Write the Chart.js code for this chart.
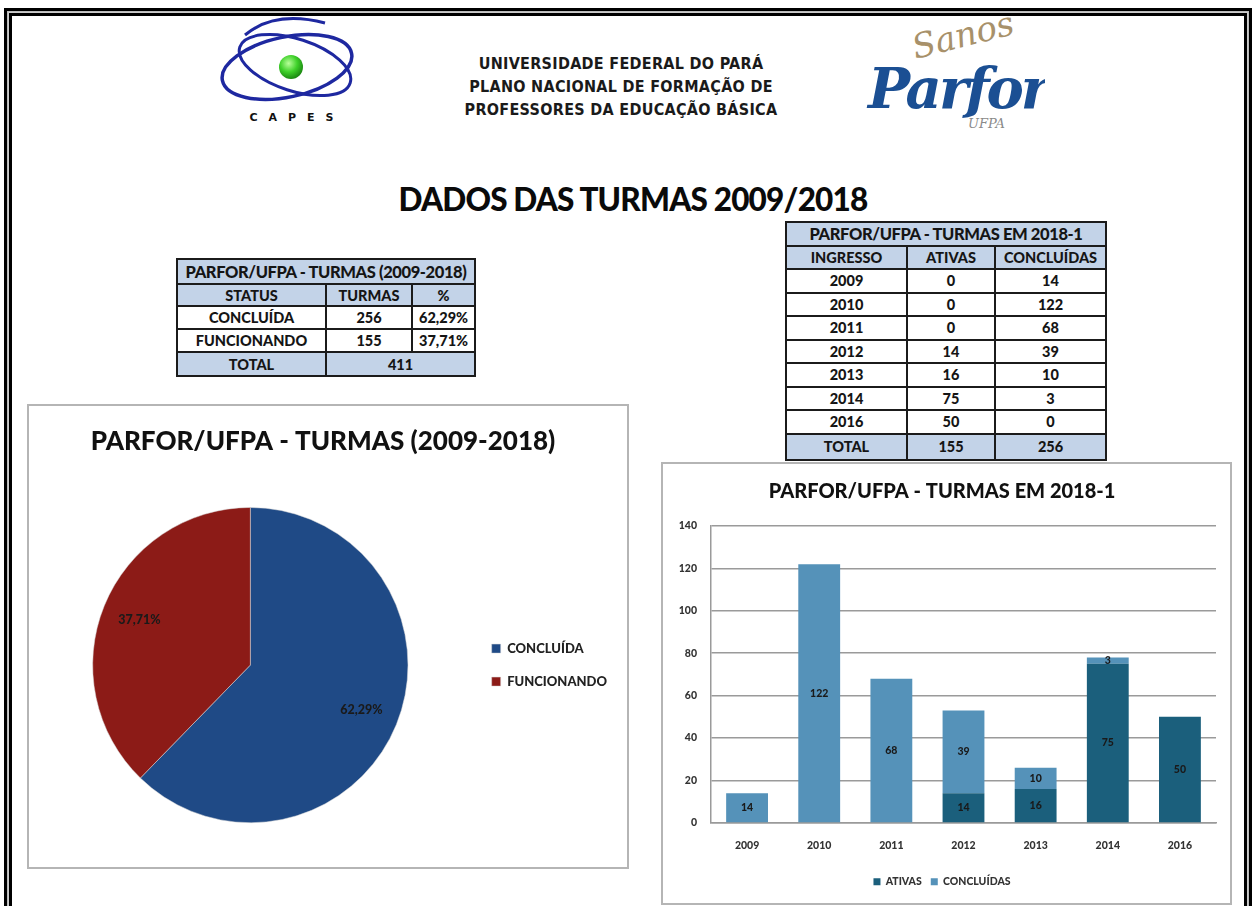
<!DOCTYPE html>
<html lang="pt">
<head>
  <meta charset="UTF-8">
  <title>Dados das Turmas 2009/2018</title>
  <script src="https://cdn.jsdelivr.net/npm/chart.js"></script>
  <style>
    body { margin: 0; width: 1254px; height: 906px; overflow: hidden; background: #fff; position: relative; font-family: Lato, "Open Sans", sans-serif; }
    .frame1 { position: absolute; left: 4px; top: 8px; width: 1242px; height: 1000px; border: 3px solid #000; box-shadow: inset 0 0 0 1px #bbb; }
    .frame2 { position: absolute; left: 9px; top: 13px; width: 1232px; height: 1000px; border: 3px solid #000; box-shadow: 0 0 0 1px #ccc; }
    .head { position: absolute; left: 410px; top: 52px; width: 422px; text-align: center; font-family: "DejaVu Sans Condensed", "DejaVu Sans", sans-serif; font-weight: bold; font-size: 16px; letter-spacing: 0.3px; line-height: 23px; color: #1a1a1a; }
    .maintitle { position: absolute; left: 300px; top: 180px; width: 666px; text-align: center; font-weight: 900; font-size: 31.5px; color: #0a0a0a; letter-spacing: -0.8px; }
    table { position: absolute; border-collapse: collapse; font-weight: 900; color: #151515; text-align: center; }
    td { border: 2px solid #1b1b1b; padding: 0; }
    .blue td { background: #c3d3e8; }
    .ttl td { font-size: 16.5px; letter-spacing: -0.4px; }
    #tabStatus { left: 176px; top: 258px; width: 300px; font-size: 14.5px; }
    #tabIngresso { left: 785px; top: 221px; width: 322px; font-size: 14.5px; }
    .box { position: absolute; border: 2px solid #b5b5b5; background: #fff; }
    #pieBox { left: 27px; top: 404px; width: 598px; height: 461px; }
    #barBox { left: 661px; top: 462px; width: 567px; height: 439px; }
  </style>
</head>
<body>
  <div class="frame1"></div>
  <div class="frame2"></div>

  <!-- logo CAPES -->
  <svg style="position:absolute;left:215px;top:15px" width="160" height="115">
    <defs>
      <radialGradient id="g" cx="40%" cy="35%" r="65%">
        <stop offset="0%" stop-color="#b8ff9a"/>
        <stop offset="55%" stop-color="#3fd12a"/>
        <stop offset="100%" stop-color="#1c8a12"/>
      </radialGradient>
    </defs>
    <ellipse cx="72" cy="52" rx="66" ry="30" transform="rotate(-12 72 52)" fill="none" stroke="#1e28a0" stroke-width="3.5"/>
    <ellipse cx="80" cy="50" rx="58" ry="26" transform="rotate(18 80 50)" fill="none" stroke="#1e28a0" stroke-width="3"/>
    <path d="M30 20 Q60 -5 110 8" fill="none" stroke="#1e28a0" stroke-width="3"/>
    <circle cx="76" cy="52" r="12" fill="url(#g)"/>
    <text x="82" y="106" text-anchor="middle" font-family="DejaVu Sans" font-weight="bold" font-size="11" letter-spacing="11" fill="#111">CAPES</text>
  </svg>

  <div class="head">UNIVERSIDADE FEDERAL DO PARÁ<br>PLANO NACIONAL DE FORMAÇÃO DE<br>PROFESSORES DA EDUCAÇÃO BÁSICA</div>

  <!-- logo Parfor -->
  <svg style="position:absolute;left:860px;top:10px" width="185" height="125">
    <text x="52" y="40" font-family="DejaVu Serif" font-style="italic" font-size="34" fill="#a8916a" transform="rotate(-14 90 30)">Sanos</text>
    <text x="8" y="98" font-family="DejaVu Serif" font-style="italic" font-weight="bold" font-size="56" fill="#1b4f93" letter-spacing="-3">Parfor</text>
    <text x="108" y="118" font-family="DejaVu Serif" font-style="italic" font-size="13" fill="#8a8a8a">UFPA</text>
  </svg>

  <div class="maintitle">DADOS DAS TURMAS 2009/2018</div>

  <table id="tabStatus"></table>
  <table id="tabIngresso"></table>

  <div class="box" id="pieBox"><canvas id="pieChart"></canvas></div>
  <div class="box" id="barBox"><canvas id="barChart"></canvas></div>

  <script>
    // tabela / pizza 2009-2018
    const statusLabels = ['CONCLUÍDA', 'FUNCIONANDO'];
    const statusTurmas = [256, 155];
    const statusPct = ['62,29%', '37,71%'];
    const statusTotal = 411;

    // tabela / barras 2018-1
    const anos = ['2009', '2010', '2011', '2012', '2013', '2014', '2016'];
    const ativas = [0, 0, 0, 14, 16, 75, 50];
    const concluidas = [14, 122, 68, 39, 10, 3, 0];
    const totalAtivas = 155;
    const totalConcluidas = 256;

    const font = 'Lato, "Open Sans", sans-serif';

    // monta as tabelas
    let html = '<tr class="blue ttl" style="height:25px"><td colspan="3">PARFOR/UFPA - TURMAS (2009-2018)</td></tr>';
    html += '<tr class="blue" style="height:22px"><td style="width:147px">STATUS</td><td style="width:84px">TURMAS</td><td>%</td></tr>';
    statusLabels.forEach((s, i) => {
      html += `<tr style="height:23px"><td>${s}</td><td>${statusTurmas[i]}</td><td>${statusPct[i]}</td></tr>`;
    });
    html += `<tr class="blue" style="height:24px"><td>TOTAL</td><td colspan="2">${statusTotal}</td></tr>`;
    document.getElementById('tabStatus').innerHTML = html;

    html = '<tr class="blue ttl" style="height:24px"><td colspan="3">PARFOR/UFPA - TURMAS EM 2018-1</td></tr>';
    html += '<tr class="blue" style="height:23px"><td style="width:119px">INGRESSO</td><td style="width:86px">ATIVAS</td><td>CONCLUÍDAS</td></tr>';
    anos.forEach((a, i) => {
      html += `<tr style="height:23.5px"><td>${a}</td><td>${ativas[i]}</td><td>${concluidas[i]}</td></tr>`;
    });
    html += `<tr class="blue" style="height:26px"><td>TOTAL</td><td>${totalAtivas}</td><td>${totalConcluidas}</td></tr>`;
    document.getElementById('tabIngresso').innerHTML = html;

    // rotulos dentro das fatias
    const pieLabels = {
      id: 'pieLabels',
      afterDatasetsDraw(chart) {
        const ctx = chart.ctx;
        ctx.save();
        ctx.font = '900 12.5px ' + font;
        ctx.fillStyle = '#1a1a1a';
        ctx.textAlign = 'center';
        ctx.textBaseline = 'middle';
        chart.getDatasetMeta(0).data.forEach((arc, i) => {
          const mid = (arc.startAngle + arc.endAngle) / 2;
          const r = arc.outerRadius * 0.76;
          ctx.fillText(statusPct[i], arc.x + Math.cos(mid) * r, arc.y + Math.sin(mid) * r);
        });
        ctx.restore();
      }
    };

    new Chart(document.getElementById('pieChart'), {
      type: 'pie',
      data: {
        labels: statusLabels,
        datasets: [{
          data: statusTurmas,
          backgroundColor: ['#1f4a86', '#8c1b17'],
          borderColor: '#d8d8d8',
          borderWidth: 0.5
        }]
      },
      options: {
        responsive: true,
        maintainAspectRatio: false,
        animation: false,
        layout: { padding: { left: 0, right: 10, bottom: 44 } },
        plugins: {
          title: {
            display: true,
            text: 'PARFOR/UFPA - TURMAS (2009-2018)',
            color: '#111',
            font: { family: font, size: 26, weight: '900' },
            padding: { top: 20, bottom: 50 }
          },
          legend: {
            position: 'right',
            fullSize: false,
            labels: {
              boxWidth: 9, boxHeight: 9, padding: 20, color: '#222',
              font: { family: font, size: 13, weight: '900' }
            }
          },
          tooltip: { enabled: false }
        }
      },
      plugins: [pieLabels]
    });

    // rotulos dentro das barras
    const barLabels = {
      id: 'barLabels',
      afterDatasetsDraw(chart) {
        const ctx = chart.ctx;
        ctx.save();
        ctx.font = '900 10.5px ' + font;
        ctx.fillStyle = '#1a1a1a';
        ctx.textAlign = 'center';
        ctx.textBaseline = 'middle';
        chart.data.datasets.forEach((ds, d) => {
          chart.getDatasetMeta(d).data.forEach((bar, i) => {
            if (!ds.data[i]) return;
            ctx.fillText(ds.data[i], bar.x, (bar.y + bar.base) / 2);
          });
        });
        ctx.restore();
      }
    };

    new Chart(document.getElementById('barChart'), {
      type: 'bar',
      data: {
        labels: anos,
        datasets: [
          { label: 'ATIVAS', data: ativas, backgroundColor: '#1b5f7c' },
          { label: 'CONCLUÍDAS', data: concluidas, backgroundColor: '#5592b9' }
        ]
      },
      options: {
        responsive: true,
        maintainAspectRatio: false,
        animation: false,
        datasets: { bar: { categoryPercentage: 1, barPercentage: 0.58 } },
        layout: { padding: { left: 5, right: 14, bottom: 6 } },
        scales: {
          x: {
            stacked: true,
            grid: { display: false, drawTicks: false },
            border: { color: '#9a9a9a', width: 1.5 },
            ticks: { color: '#333', padding: 16, font: { family: font, size: 10.5, weight: '900' } }
          },
          y: {
            stacked: true,
            min: 0, max: 140,
            afterFit(scale) { scale.width = 43; },
            grid: { color: '#9a9a9a', lineWidth: 1.5, drawTicks: false },
            border: { color: '#9a9a9a', width: 1.5 },
            ticks: { stepSize: 20, color: '#333', padding: 14, font: { family: font, size: 10.5, weight: '900' } }
          }
        },
        plugins: {
          title: {
            display: true,
            text: 'PARFOR/UFPA - TURMAS EM 2018-1',
            color: '#111',
            font: { family: font, size: 20, weight: '900' },
            padding: { top: 16, bottom: 22 }
          },
          legend: {
            position: 'bottom',
            labels: {
              boxWidth: 7, boxHeight: 7, padding: 9, color: '#333',
              font: { family: font, size: 10.5, weight: '900' }
            }
          },
          tooltip: { enabled: false }
        }
      },
      plugins: [barLabels]
    });
  </script>
</body>
</html>
